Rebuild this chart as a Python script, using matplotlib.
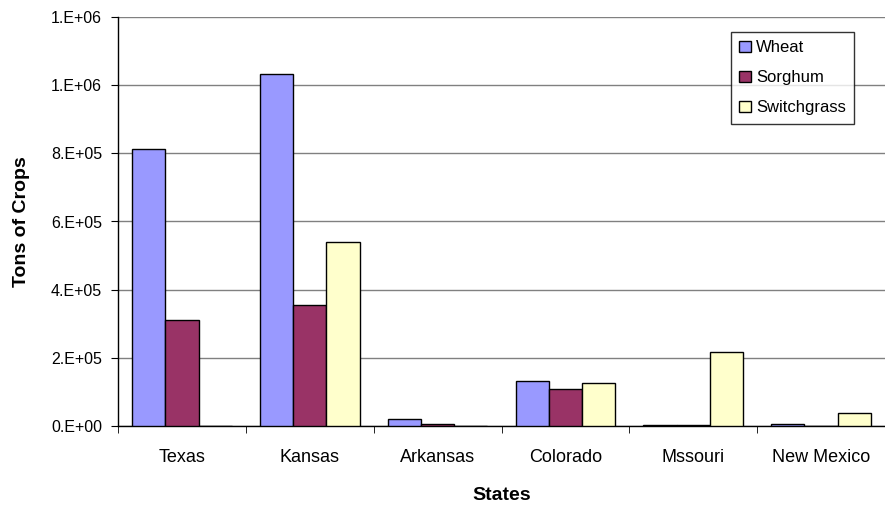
import matplotlib
matplotlib.use("Agg")
import matplotlib.pyplot as plt
import numpy as np
from matplotlib.ticker import FixedLocator, FuncFormatter

plt.rcParams['font.family'] = ['Liberation Sans', 'DejaVu Sans']

states = ["Texas", "Kansas", "Arkansas", "Colorado", "Mssouri", "New Mexico"]
wheat = [812000, 1032000, 20000, 132000, 3000, 7000]
sorghum = [311000, 354000, 7000, 109000, 3000, 0]
switchgrass = [0, 539000, 0, 127000, 218000, 37000]
series_names = ["Wheat", "Sorghum", "Switchgrass"]
y_ticks = [0, 200000, 400000, 600000, 800000, 1000000, 1200000]

colors = ["#9999FF", "#993366", "#FFFFCC"]

fig = plt.figure(figsize=(8.85, 5.05), dpi=100)
ax = fig.add_axes([118 / 885, 79 / 505, 767 / 885, 409 / 505])

x = np.arange(len(states))
w = 0.26
for i, (vals, name, c) in enumerate(zip([wheat, sorghum, switchgrass], series_names, colors)):
    ax.bar(x + (i - 1) * w, vals, width=w, color=c, edgecolor="black",
           linewidth=1.0, label=name, zorder=3)

ax.set_xlim(-0.5, len(states) - 0.5)
ax.set_ylim(0, 1200000)
ax.yaxis.set_major_locator(FixedLocator(y_ticks))
ax.yaxis.set_major_formatter(FuncFormatter(lambda v, p: f"{v:.0E}".replace("E", ".E")))
ax.grid(axis="y", color="#808080", linewidth=1.0, zorder=0)

ax.set_xticks(x)
ax.set_xticklabels(states, fontsize=13)
ax.tick_params(axis="x", length=0, pad=16.5)
ax.set_xticks(np.arange(len(states) + 1) - 0.5, minor=True)
ax.tick_params(axis="x", which="minor", length=5, direction="out", color="black")
ax.tick_params(axis="y", length=5, direction="out", labelsize=11.5, pad=6.5)

for s in ["top", "right"]:
    ax.spines[s].set_visible(False)
for s in ["left", "bottom"]:
    ax.spines[s].set_color("black")
    ax.spines[s].set_linewidth(1.0)

ax.set_xlabel("States", fontsize=14, fontweight="bold", labelpad=15)
ax.set_ylabel("Tons of Crops", fontsize=14, fontweight="bold", labelpad=15)

leg = ax.legend(loc="upper right", bbox_to_anchor=(854 / 885, 473 / 505),
                bbox_transform=fig.transFigure, fontsize=12, frameon=True,
                fancybox=False, edgecolor="black", handlelength=0.7,
                handleheight=0.7, handletextpad=0.3, labelspacing=0.9,
                borderpad=0.5, borderaxespad=0)
leg.get_frame().set_linewidth(1.0)

fig.savefig("out.png", dpi=100, facecolor="white")
